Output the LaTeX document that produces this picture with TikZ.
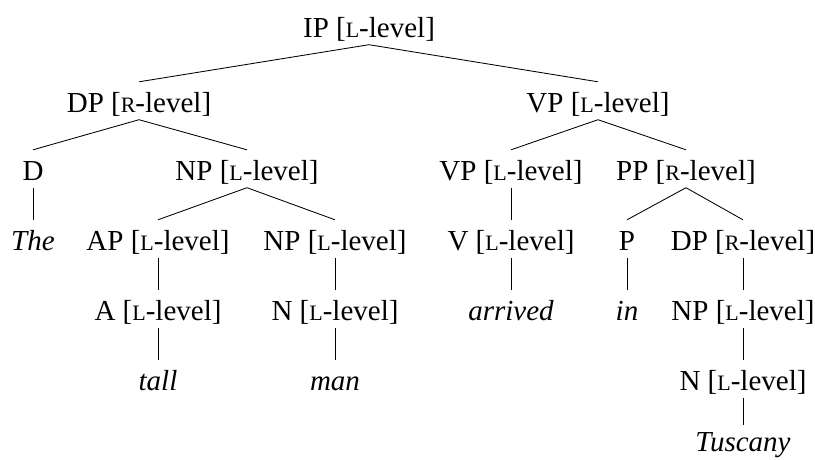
\documentclass[tikz,border=0pt]{standalone}
\usepackage{fontspec}
\setmainfont{Liberation Serif}
\newcommand\smc[1]{{\fontsize{22}{22}\selectfont #1}}
\newcommand\lev[1]{[\smc{#1}-level]}
\begin{document}
\begin{tikzpicture}[x=1pt,y=-1pt,
  lab/.style={anchor=base,inner sep=0pt,text height=30pt,text depth=7.5pt,font=\fontsize{29}{29}\selectfont},
  edge/.style={line width=0.85pt}]
\useasboundingbox (0,0) rectangle (815,459);
% row 1
\node[lab] (IP) at (369,37) {IP \lev{L}};
% row 2
\node[lab] (DP) at (139,112) {DP \lev{R}};
\node[lab] (VP) at (598,112) {VP \lev{L}};
% row 3
\node[lab] (D) at (33,180) {D};
\node[lab] (NPa) at (247,180) {NP \lev{L}};
\node[lab] (VPb) at (511,180) {VP \lev{L}};
\node[lab] (PP) at (686,180) {PP \lev{R}};
% row 4
\node[lab] (The) at (33,250) {\itshape The};
\node[lab] (AP) at (158,250) {AP \lev{L}};
\node[lab] (NPb) at (335,250) {NP \lev{L}};
\node[lab] (V) at (511,250) {V \lev{L}};
\node[lab] (P) at (627,250) {P};
\node[lab] (DPb) at (743,250) {DP \lev{R}};
% row 5
\node[lab] (A) at (158,320) {A \lev{L}};
\node[lab] (Na) at (335,320) {N \lev{L}};
\node[lab] (arrived) at (511,320) {\itshape arrived};
\node[lab] (in) at (627,320) {\itshape in};
\node[lab] (NPc) at (743,320) {NP \lev{L}};
% row 6
\node[lab] (tall) at (158,390) {\itshape tall};
\node[lab] (man) at (335,390) {\itshape man};
\node[lab] (Nb) at (743,390) {N \lev{L}};
% row 7
\node[lab] (Tuscany) at (743,451) {\itshape Tuscany};
% edges
\draw[edge] (IP.south) -- (DP.north);
\draw[edge] (IP.south) -- (VP.north);
\draw[edge] (DP.south) -- (D.north);
\draw[edge] (DP.south) -- (NPa.north);
\draw[edge] (VP.south) -- (VPb.north);
\draw[edge] (VP.south) -- (PP.north);
\draw[edge] (D.south) -- (The.north);
\draw[edge] (NPa.south) -- (AP.north);
\draw[edge] (NPa.south) -- (NPb.north);
\draw[edge] (VPb.south) -- (V.north);
\draw[edge] (PP.south) -- (P.north);
\draw[edge] (PP.south) -- (DPb.north);
\draw[edge] (AP.south) -- (A.north);
\draw[edge] (NPb.south) -- (Na.north);
\draw[edge] (V.south) -- (arrived.north);
\draw[edge] (P.south) -- (in.north);
\draw[edge] (DPb.south) -- (NPc.north);
\draw[edge] (A.south) -- (tall.north);
\draw[edge] (Na.south) -- (man.north);
\draw[edge] (NPc.south) -- (Nb.north);
\draw[edge] (Nb.south) -- ([yshift=-4pt]Tuscany.north);
\end{tikzpicture}
\end{document}
